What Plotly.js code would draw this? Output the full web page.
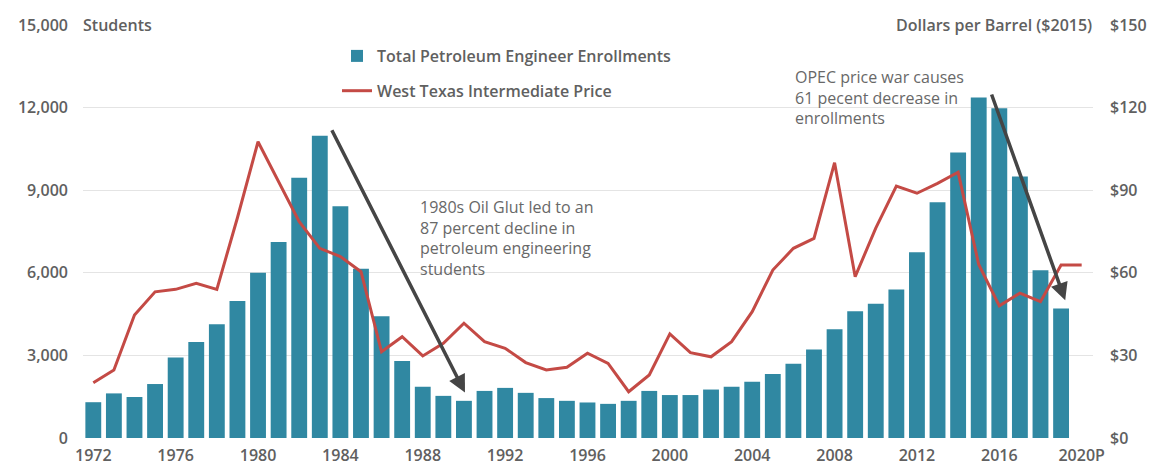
<!DOCTYPE html>
<html>
<head>
<meta charset="utf-8">
<script src="https://cdn.plot.ly/plotly-3.0.1.min.js"></script>
<style>
  html, body { margin: 0; padding: 0; background: #ffffff; }
  #chart { width: 1151px; height: 468px; }
</style>
</head>
<body>
<div id="chart"></div>
<script>
// ---- Data ----
const enrollYears = [1972,1973,1974,1975,1976,1977,1978,1979,1980,1981,1982,1983,1984,1985,1986,1987,1988,1989,1990,1991,1992,1993,1994,1995,1996,1997,1998,1999,2000,2001,2002,2003,2004,2005,2006,2007,2008,2009,2010,2011,2012,2013,2014,2015,2016,2017,2018,2019];
const enrollments = [1300,1620,1490,1960,2920,3490,4130,4980,6000,7120,9450,10980,8420,6150,4420,2800,1860,1530,1350,1710,1820,1640,1450,1350,1290,1240,1350,1710,1560,1560,1760,1860,2040,2320,2700,3210,3950,4600,4880,5390,6750,8560,10370,12370,11980,9500,6090,4700];

const priceYears = [1972,1973,1974,1975,1976,1977,1978,1979,1980,1981,1982,1983,1984,1985,1986,1987,1988,1989,1990,1991,1992,1993,1994,1995,1996,1997,1998,1999,2000,2001,2002,2003,2004,2005,2006,2007,2008,2009,2010,2011,2012,2013,2014,2015,2016,2017,2018,2019,2020];
const wtiPrice = [20.1,24.7,44.7,53.1,54.0,56.2,54.0,80,107.6,93,78.6,68.9,65.9,60.4,31.3,36.8,29.8,34.4,41.7,35.0,32.6,27.4,24.7,25.7,30.8,27.1,16.8,22.9,37.8,31.0,29.5,35.0,45.9,61,68.9,72.5,100,58.6,76.2,91.5,88.9,92.5,96.5,63,48,52.6,49.5,62.8,62.8];

const xTickVals = [1972,1976,1980,1984,1988,1992,1996,2000,2004,2008,2012,2016,2020];
const xTickText = ['1972','1976','1980','1984','1988','1992','1996','2000','2004','2008','2012','2016','2020P'];
const leftTickVals = [0,3000,6000,9000,12000,15000];
const leftTickText = ['0','3,000','6,000','9,000','12,000','15,000'];
const rightTickVals = [0,30,60,90,120,150];
const rightTickText = ['$0','$30','$60','$90','$120','$150'];

const seriesNames = ['Total Petroleum Engineer Enrollments','West Texas Intermediate Price'];
const glutLines = ['1980s Oil Glut led to an','87 percent decline in','petroleum engineering','students'];
const opecLines = ['OPEC price war causes','61 pecent decrease in','enrollments'];

// ---- Styles ----
const FONT = 'Open Sans, Lato, sans-serif';
const TICKCOL = '#606060';
const BARCOL = '#3088a2';
const LINECOL = '#c44a45';

const traces = [
  {
    type: 'bar', x: enrollYears, y: enrollments, name: seriesNames[0],
    marker: { color: BARCOL }, yaxis: 'y', legendgroup: 'a',
    hoverinfo: 'x+y'
  },
  {
    type: 'scatter', mode: 'lines', x: priceYears, y: wtiPrice, name: seriesNames[1],
    line: { color: LINECOL, width: 3 }, yaxis: 'y2', legendgroup: 'b',
    hoverinfo: 'x+y'
  }
];

// plot area pixel geometry
const L = 83, R = 58, T = 25, B = 30;
const W = 1151, H = 468;
const pw = W - L - R, ph = H - T - B;
function px2paperX(px) { return (px - L) / pw; }
function px2paperY(py) { return 1 - (py - T) / ph; }

const annotations = [];
// Axis header labels
annotations.push({
  xref: 'paper', yref: 'paper', x: px2paperX(76), y: px2paperY(25),
  xanchor: 'left', yanchor: 'middle', showarrow: false, text: 'Students',
  bgcolor: '#ffffff', borderpad: 6,
  font: { family: FONT, size: 16, color: TICKCOL, weight: 600 }
});
annotations.push({
  xref: 'paper', yref: 'paper', x: px2paperX(1099), y: px2paperY(25),
  xanchor: 'right', yanchor: 'middle', showarrow: false, text: 'Dollars per Barrel ($2015)',
  bgcolor: '#ffffff', borderpad: 6,
  font: { family: FONT, size: 16, color: TICKCOL, weight: 600 }
});
// Text notes (one annotation per line for the line spacing)
glutLines.forEach((t, i) => annotations.push({
  xref: 'paper', yref: 'paper', x: px2paperX(418), y: px2paperY(207 + i * 20.7),
  xanchor: 'left', yanchor: 'middle', showarrow: false, text: t,
  font: { family: FONT, size: 16, color: '#686868' }
}));
opecLines.forEach((t, i) => annotations.push({
  xref: 'paper', yref: 'paper', x: px2paperX(793), y: px2paperY(77 + i * 20.7),
  xanchor: 'left', yanchor: 'middle', showarrow: false, text: t,
  font: { family: FONT, size: 16, color: '#686868' }
}));
// Arrows
annotations.push({
  xref: 'x', yref: 'y', axref: 'x', ayref: 'y',
  x: 1990.05, y: 1650, ax: 1983.55, ay: 11230,
  text: '', showarrow: true, arrowhead: 2, arrowsize: 1, arrowwidth: 3.5, arrowcolor: '#454545', standoff: 0
});
annotations.push({
  xref: 'x', yref: 'y', axref: 'x', ayref: 'y',
  x: 2019.2, y: 5000, ax: 2015.6, ay: 12530,
  text: '', showarrow: true, arrowhead: 2, arrowsize: 1, arrowwidth: 3.5, arrowcolor: '#454545', standoff: 0
});

const layout = {
  width: W, height: H,
  margin: { l: L, r: R, t: T, b: B, pad: 0 },
  paper_bgcolor: '#ffffff', plot_bgcolor: '#ffffff',
  bargap: 0.23,
  font: { family: FONT, color: TICKCOL },
  showlegend: true,
  legend: {
    x: px2paperX(337), y: px2paperY(39), xanchor: 'left', yanchor: 'top',
    bgcolor: 'rgba(255,255,255,0)', borderwidth: 0,
    traceorder: 'grouped', tracegroupgap: 11, itemwidth: 30,
    font: { family: FONT, size: 16, color: TICKCOL, weight: 600 }
  },
  xaxis: {
    type: 'linear', range: [1971.5, 2020.55],
    tickmode: 'array', tickvals: xTickVals, ticktext: xTickText,
    showgrid: false, zeroline: false, showline: false, ticks: '',
    ticklabelstandoff: 6,
    tickfont: { family: FONT, size: 16, color: TICKCOL, weight: 600 }
  },
  yaxis: {
    range: [0, 15000], tickmode: 'array', tickvals: leftTickVals, ticktext: leftTickText,
    showgrid: true, gridcolor: '#e4e4e4', gridwidth: 1.2,
    zeroline: false, showline: false, ticks: '',
    ticklabelstandoff: 14,
    tickfont: { family: FONT, size: 16, color: TICKCOL, weight: 600 }
  },
  yaxis2: {
    range: [0, 150], overlaying: 'y', side: 'right',
    tickmode: 'array', tickvals: rightTickVals, ticktext: rightTickText,
    showgrid: false, zeroline: false, showline: false, ticks: '',
    ticklabelstandoff: 16,
    tickfont: { family: FONT, size: 16, color: TICKCOL, weight: 600 }
  },
  annotations: annotations
};

Plotly.newPlot('chart', traces, layout, { displayModeBar: false, staticPlot: true });
</script>
</body>
</html>
